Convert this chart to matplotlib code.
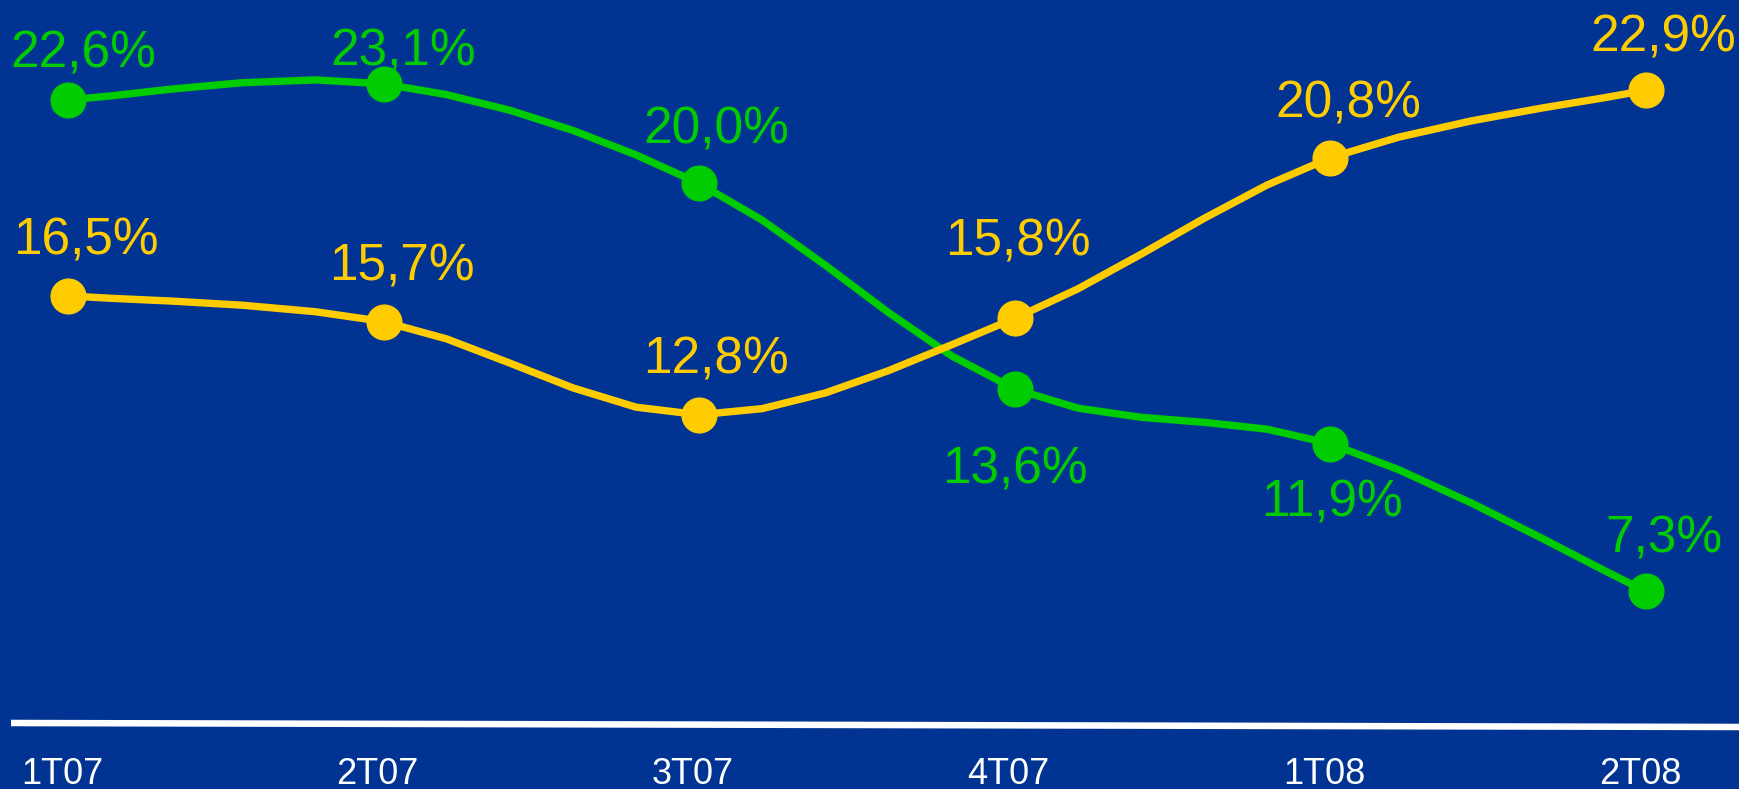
import matplotlib.pyplot as plt
import numpy as np

plt.rcParams['font.family'] = ['Liberation Sans', 'DejaVu Sans']

# data
trimestres = ['1T07', '2T07', '3T07', '4T07', '1T08', '2T08']
serie_verde = [22.6, 23.1, 20.0, 13.6, 11.9, 7.3]
serie_amarela = [16.5, 15.7, 12.8, 15.8, 20.8, 22.9]

# label offsets in pixels (dx, dy) relative to each point
off_verde = [(15, 32), (20, 18), (17, 40), (0, -94), (2, -73), (18, 39)]
off_amarela = [(18, 41), (18, 41), (17, 41), (3, 63), (18, 40), (17, 39)]

fundo = '#003392'
verde = '#00cc00'
amarelo = '#ffcc00'


def suave(x, y, n=5):
    # smoothed line through the points (bezier, catmull-rom style)
    x = np.asarray(x, float)
    y = np.asarray(y, float)
    px = np.concatenate([[x[0]], x, [x[-1]]])
    py = np.concatenate([[y[0]], y, [y[-1]]])
    xs, ys = [], []
    t = np.linspace(0, 1, n, endpoint=False)
    for i in range(1, len(px) - 2):
        p0 = np.array([px[i], py[i]])
        p3 = np.array([px[i + 1], py[i + 1]])
        p1 = p0 + (np.array([px[i + 1], py[i + 1]]) - np.array([px[i - 1], py[i - 1]])) / 6
        p2 = p3 - (np.array([px[i + 2], py[i + 2]]) - np.array([px[i], py[i]])) / 6
        for tt in t:
            b = ((1 - tt) ** 3) * p0 + 3 * ((1 - tt) ** 2) * tt * p1 + 3 * (1 - tt) * tt ** 2 * p2 + tt ** 3 * p3
            xs.append(b[0])
            ys.append(b[1])
    xs.append(x[-1])
    ys.append(y[-1])
    return xs, ys


fig = plt.figure(figsize=(17.39, 7.89), dpi=100, facecolor=fundo)
ax = fig.add_axes([0, 0, 1, 1])
ax.set_facecolor(fundo)

x = np.arange(len(trimestres))

for valores, cor, offs in [(serie_verde, verde, off_verde), (serie_amarela, amarelo, off_amarela)]:
    sx, sy = suave(x, valores)
    ax.plot(sx, sy, color=cor, lw=5.3, solid_joinstyle='miter', zorder=2)
    ax.plot(x, valores, 'o', color=cor, markersize=25, zorder=3)
    for xi, v, (dx, dy) in zip(x, valores, offs):
        ax.annotate(f'{v:.1f}%'.replace('.', ','), xy=(xi, v), xytext=(dx, dy),
                    textcoords='offset pixels', ha='center', va='baseline',
                    fontsize=37, color=cor)

# base line
ax.plot([11 / 1739, 1.0], [1 - 723 / 789, 1 - 727 / 789], color='white', lw=4.7,
        transform=ax.transAxes, solid_capstyle='butt')

for xi, lbl in zip(x, trimestres):
    ax.annotate(lbl, xy=(xi, 1 - 784 / 789), xycoords=ax.get_xaxis_transform(),
                xytext=(-6, 0), textcoords='offset pixels', ha='center', va='baseline',
                fontsize=26, color='white')

ax.set_xlim(-0.2155, 5.295)
ax.set_ylim(1.15, 25.71)
ax.axis('off')

plt.savefig('out.png', dpi=100, facecolor=fundo)
